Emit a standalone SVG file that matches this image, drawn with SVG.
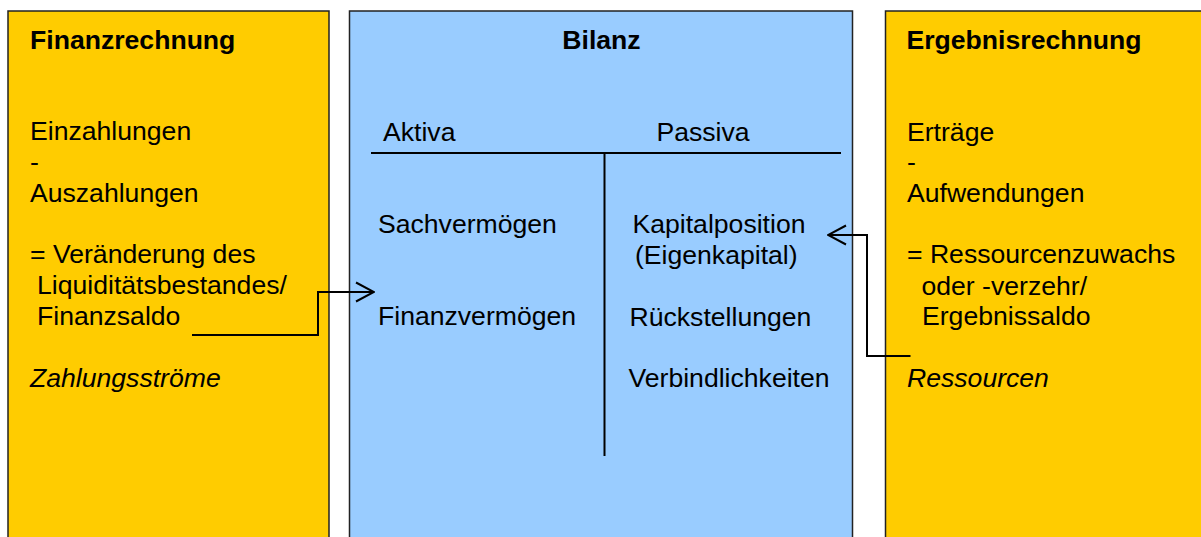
<svg xmlns="http://www.w3.org/2000/svg" width="1201" height="537" viewBox="0 0 1201 537">
  <style>
    .box { stroke: #222; stroke-width: 1.5; }
    .yellow { fill: #FFCC00; }
    .blue { fill: #99CCFF; }
    text { font-family: "Liberation Sans", Arial, sans-serif; font-size: 26.6px; fill: #000; }
    .title { font-weight: bold; }
    .it { font-style: italic; }
    .rule { stroke: #000; stroke-width: 2; fill: none; }
    .conn { stroke: #000; stroke-width: 2; fill: none; }
  </style>
  <defs>
    <marker id="arrow" markerUnits="userSpaceOnUse" viewBox="0 0 20 22" markerWidth="20" markerHeight="22" refX="19" refY="11" orient="auto">
      <path d="M1,1.5 L19,11 L1,20.5" fill="none" stroke="#000" stroke-width="2"/>
    </marker>
  </defs>
  <rect width="1201" height="537" fill="#fff"/>

  <g id="finanzrechnung">
    <rect class="box yellow" x="8" y="11" width="321" height="540"/>
    <text class="title" x="30" y="49">Finanzrechnung</text>
    <text x="30" y="140">Einzahlungen</text>
    <text x="30" y="171">-</text>
    <text x="30" y="201.5">Auszahlungen</text>
    <text x="30" y="263">= Veränderung des</text>
    <text x="37" y="294">Liquiditätsbestandes/</text>
    <text x="37" y="325">Finanzsaldo</text>
    <text class="it" x="30" y="386.5">Zahlungsströme</text>
  </g>

  <g id="bilanz">
    <rect class="box blue" x="349.5" y="11" width="503" height="540"/>
    <text class="title" x="601.5" y="49" text-anchor="middle">Bilanz</text>
    <text x="383" y="140.5">Aktiva</text>
    <text x="656.5" y="140.5">Passiva</text>
    <line class="rule" x1="371" y1="153" x2="841" y2="153"/>
    <line class="rule" x1="604.5" y1="153" x2="604.5" y2="456"/>
    <text x="378" y="232.5">Sachvermögen</text>
    <text x="378" y="325">Finanzvermögen</text>
    <text x="632.5" y="232.5">Kapitalposition</text>
    <text x="635" y="263.5">(Eigenkapital)</text>
    <text x="629.5" y="325.5">Rückstellungen</text>
    <text x="628.5" y="387">Verbindlichkeiten</text>
  </g>

  <g id="ergebnisrechnung">
    <rect class="box yellow" x="885.5" y="11" width="330" height="540"/>
    <text class="title" x="906.5" y="49">Ergebnisrechnung</text>
    <text x="907" y="140.5">Erträge</text>
    <text x="907" y="171">-</text>
    <text x="907" y="201.5">Aufwendungen</text>
    <text x="907" y="262.5">= Ressourcenzuwachs</text>
    <text x="921.5" y="294.5">oder -verzehr/</text>
    <text x="922" y="325">Ergebnissaldo</text>
    <text class="it" x="907" y="386.5">Ressourcen</text>
  </g>

  <g id="connectors">
    <path class="conn" d="M192,335 H318 V292 H374" marker-end="url(#arrow)"/>
    <path class="conn" d="M910.5,356 H867 V235 H828" marker-end="url(#arrow)"/>
  </g>
</svg>
